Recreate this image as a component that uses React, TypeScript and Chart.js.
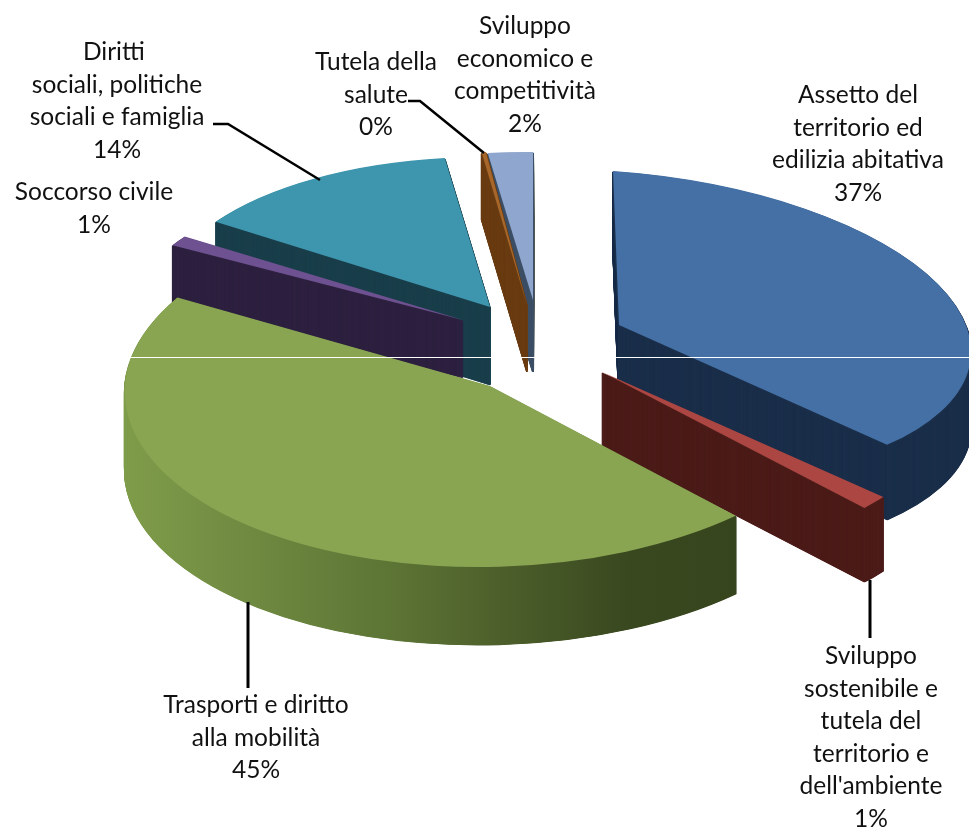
import React, { useEffect, useRef } from "react";
import { Chart, registerables } from "chart.js";

Chart.register(...registerables);

const categories = [
  "Assetto del territorio ed edilizia abitativa",
  "Sviluppo sostenibile e tutela del territorio e dell'ambiente",
  "Trasporti e diritto alla mobilità",
  "Soccorso civile",
  "Diritti sociali, politiche sociali e famiglia",
  "Tutela della salute",
  "Sviluppo economico e competitività",
];
const values = [36.5, 1.4, 45.4, 1.1, 13.5, 0.2, 1.9];
const topColors = ["#4470a5", "#ab4642", "#89a552", "#6e5190", "#3e95ae", "#a8672a", "#8fa7cf"];
const wallColors = ["#1b2f4a", "#4c1c19", "", "#2e2140", "#1a3f4b", "#6a3c12", "#3c4f66"];
const greenWallStops: [number, string][] = [
  [0, "#7f9c4a"],
  [0.16, "#718c42"],
  [0.37, "#5d7535"],
  [0.55, "#4a5c29"],
  [0.7, "#39481f"],
  [1, "#35421c"],
];

// paint order, back to front
const paintOrder = [6, 5, 4, 3, 0, 1, 2];

// 3D view of each exploded slice: apex, image of the "right" and "down" radii, wall depth
const views = [
  { c: [619, 325], a: [352, 24], b: [6, 154], depth: 75 },
  { c: [602, 372], a: [345, 8], b: [34, 180], depth: 74 },
  { c: [490, 386], a: [365, -2], b: [-8, 181], depth: 78 },
  { c: [463, 320], a: [335, 0], b: [0, 150], depth: 58 },
  { c: [490, 307], a: [329, 2], b: [2, 150], depth: 78 },
  { c: [527, 305], a: [345, 0], b: [0, 154], depth: 67 },
  { c: [533, 300], a: [380, 0], b: [0, 148], depth: 72 },
];

const labelLines = [
  ["Assetto del", "territorio ed", "edilizia abitativa"],
  ["Sviluppo", "sostenibile e", "tutela del", "territorio e", "dell'ambiente"],
  ["Trasporti e diritto", "alla mobilità"],
  ["Soccorso civile"],
  ["Diritti ", "sociali, politiche", "sociali e famiglia"],
  ["Tutela della", "salute"],
  ["Sviluppo", "economico e", "competitività"],
];
const labelAnchors = [
  [858, 95],
  [871, 656],
  [256, 705],
  [94, 192],
  [117, 52],
  [376, 62],
  [525, 26],
];
const lineStep = 32.6;
const leaders = [
  { w: 2.5, pts: [[213, 124], [228, 124], [320, 180]] },
  { w: 2.5, pts: [[408, 101], [420, 101], [484, 153]] },
  { w: 3, pts: [[870, 580], [870, 638]] },
  { w: 3, pts: [[248, 602], [248, 688]] },
];

const pie3d = {
  id: "pie3d",
  beforeDatasetDraw(chart: any) {
    const ctx = chart.ctx;
    const meta = chart.getDatasetMeta(0);
    for (const i of paintOrder) {
      const arc = meta.data[i];
      const v = views[i];
      const R = arc.outerRadius;
      const place = (k: number) => {
        ctx.save();
        ctx.translate(v.c[0], v.c[1] + k);
        ctx.transform(v.a[0] / R, v.a[1] / R, v.b[0] / R, v.b[1] / R, 0, 0);
        ctx.translate(-arc.x, -arc.y);
      };
      const base = arc.options;
      let wall: any = wallColors[i];
      if (!wall) {
        wall = ctx.createLinearGradient(arc.x - R, 0, arc.x + R, 0);
        for (const [o, c] of greenWallStops) wall.addColorStop(o, c);
      }
      arc.options = { ...base, backgroundColor: wall, borderColor: wall, borderWidth: 1.6 };
      for (let k = v.depth; k >= 1; k -= 0.5) {
        place(k);
        arc.draw(ctx);
        ctx.restore();
      }
      arc.options = base;
      place(0);
      arc.draw(ctx);
      ctx.restore();
    }
    return false;
  },
  afterDraw(chart: any) {
    const ctx = chart.ctx;
    ctx.save();
    ctx.fillStyle = "#ffffff";
    ctx.fillRect(0, 357, 969, 1);
    ctx.strokeStyle = "#000000";
    ctx.lineJoin = "miter";
    for (const l of leaders) {
      ctx.lineWidth = l.w;
      ctx.beginPath();
      l.pts.forEach((p, j) => (j ? ctx.lineTo(p[0], p[1]) : ctx.moveTo(p[0], p[1])));
      ctx.stroke();
    }
    ctx.fillStyle = "#111111";
    ctx.font = '24.5px Lato, "Open Sans", sans-serif';
    ctx.textAlign = "center";
    ctx.textBaseline = "middle";
    labelLines.forEach((lines, i) => {
      const [x, y] = labelAnchors[i];
      [...lines, `${Math.round(values[i])}%`].forEach((t, j) => {
        ctx.fillText(t, x, y + j * lineStep);
      });
    });
    ctx.restore();
  },
};

export default function App() {
  const ref = useRef<HTMLCanvasElement>(null);
  useEffect(() => {
    const chart = new Chart(ref.current as HTMLCanvasElement, {
      type: "pie",
      data: {
        labels: categories,
        datasets: [
          {
            data: values,
            backgroundColor: topColors,
            borderWidth: 0,
            radius: 300,
            clip: false,
          } as any,
        ],
      },
      options: {
        responsive: false,
        animation: false,
        layout: { padding: 0 },
        events: [],
        plugins: { legend: { display: false }, tooltip: { enabled: false } },
      },
      plugins: [pie3d],
    });
    return () => chart.destroy();
  }, []);
  return (
    <div style={{ position: "absolute", left: 0, top: 0, width: 969, height: 828, background: "#fff" }}>
      <canvas ref={ref} width={969} height={828} style={{ display: "block" }} />
    </div>
  );
}
